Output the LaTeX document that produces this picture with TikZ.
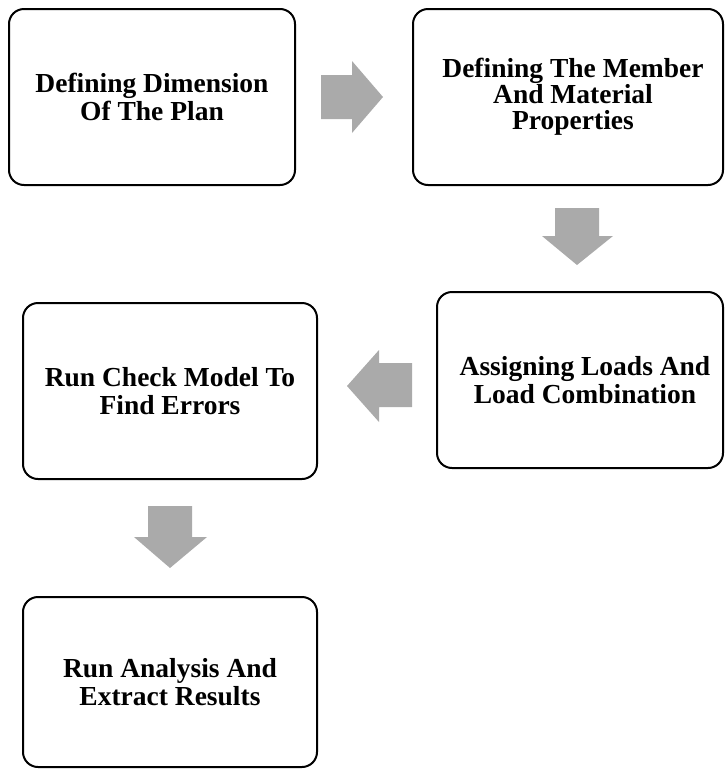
\documentclass[tikz,border=0pt]{standalone}
\usepackage{fontspec}
\setmainfont{Liberation Serif}
\begin{document}
\begin{tikzpicture}[x=1pt,y=-1pt,
  stepbox/.style={draw=black,line width=2pt,rounded corners=15pt,align=center,
    font=\fontsize{27.5}{28}\selectfont\bfseries,inner sep=0pt},
  blockarrow/.style={fill=arrowgray,draw=none}]
\definecolor{arrowgray}{RGB}{170,170,170}
\useasboundingbox (0,0) rectangle (724,769);
\node[stepbox,minimum width=286pt,minimum height=176pt] (b1) at (152,97) {Defining Dimension\\Of The Plan};
\node[stepbox,minimum width=310pt,minimum height=176pt,font=\fontsize{27.5}{26}\selectfont\bfseries] (b2) at (568,97) {\hspace*{10pt}Defining The Member\\\hspace*{10pt}And Material\\\hspace*{10pt}Properties};
\node[stepbox,minimum width=286pt,minimum height=176pt] (b3) at (580,380) {\hspace*{10pt}Assigning Loads And\\\hspace*{10pt}Load Combination};
\node[stepbox,minimum width=294pt,minimum height=176pt] (b4) at (170,391) {Run Check Model To\\Find Errors};
\node[stepbox,minimum width=294pt,minimum height=170pt] (b5) at (170,682) {Run Analysis And\\Extract Results};
% block arrows
\fill[blockarrow] (321,75) -- (352,75) -- (352,61) -- (383,97) -- (352,133) -- (352,119) -- (321,119) -- cycle;
\fill[blockarrow] (555,208) -- (599,208) -- (599,236) -- (613,236) -- (577,265) -- (542,236) -- (555,236) -- cycle;
\fill[blockarrow] (412,363) -- (379,363) -- (379,350) -- (347,386) -- (379,422) -- (379,407) -- (412,407) -- cycle;
\fill[blockarrow] (148,506) -- (192,506) -- (192,537) -- (207,537) -- (170,568) -- (134,537) -- (148,537) -- cycle;
\end{tikzpicture}
\end{document}
